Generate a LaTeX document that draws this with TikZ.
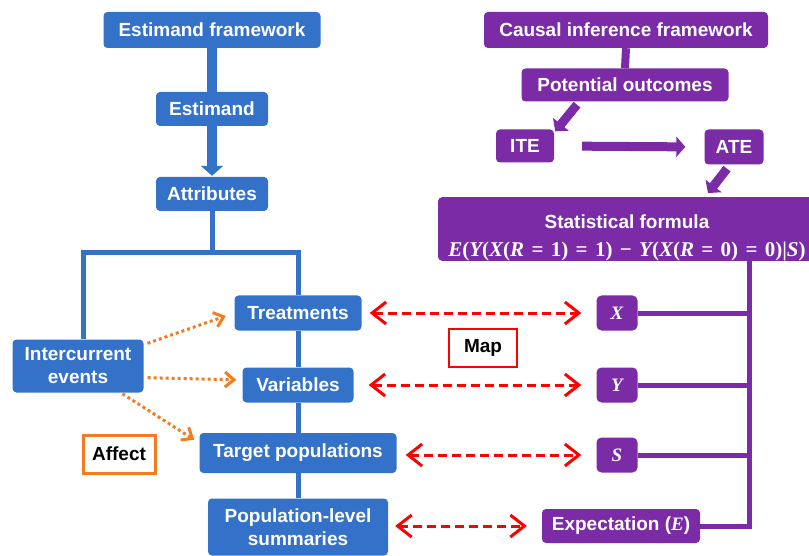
\documentclass[tikz,border=0pt]{standalone}
\usepackage{fontspec}
\setmainfont{Liberation Sans}
\newfontfamily\fserif{Liberation Serif}
\newcommand\mvar[1]{{\fserif\bfseries\itshape #1}}
\newcommand\mup[1]{{\fserif\bfseries #1}}
\newcommand\mrel[1]{\hspace{0.35em}\mup{#1}\hspace{0.35em}}
\usetikzlibrary{arrows.meta,calc}
\definecolor{eblue}{HTML}{3471C9}
\definecolor{cpurple}{HTML}{7A2BA5}
\definecolor{aorange}{HTML}{F57A20}
\definecolor{mred}{HTML}{FF0000}
\tikzset{
  box/.style={rounded corners=4pt, text=white, font=\bfseries\fontsize{19}{23}\selectfont, inner sep=0pt, align=center},
  bbox/.style={box, fill=eblue},
  pbox/.style={box, fill=cpurple},
  lbox/.style={draw, line width=3pt, fill=white, text=black, font=\bfseries\fontsize{19}{23}\selectfont, inner sep=0pt},
  btree/.style={draw=eblue, line width=5pt},
  ptree/.style={draw=cpurple, line width=5pt},
  rarrow/.style={draw=mred, line width=3pt, dash pattern=on 9pt off 5pt,
     {Straight Barb[length=14pt,width=22pt]}-{Straight Barb[length=14pt,width=22pt]}},
  oarrow/.style={draw=aorange, line width=3pt, dash pattern=on 3pt off 3pt,
     -{Straight Barb[length=9pt,width=15pt]}},
  parrow/.style={draw=cpurple, line width=9pt, -{Triangle[length=9pt,width=20pt]}},
}
\begin{document}
\begin{tikzpicture}[x=1pt,y=-1pt]
\useasboundingbox (0,0) rectangle (809,556);
% left column
\node[bbox, minimum width=217pt, minimum height=36pt] (ef) at (212,30) {Estimand framework};
\node[bbox, minimum width=112pt, minimum height=34pt] (est) at (212,109) {Estimand};
\node[bbox, minimum width=112pt, minimum height=34pt] (att) at (212,194) {Attributes};
\node[bbox, minimum width=127pt, minimum height=35pt] (trt) at (298,313) {Treatments};
\node[bbox, minimum width=131pt, minimum height=53pt] (ice) at (78,366) {Intercurrent\\events};
\node[bbox, minimum width=111pt, minimum height=35pt] (var) at (298,385) {Variables};
\node[bbox, minimum width=197pt, minimum height=40pt] (tp) at (298,453) {Target populations};
\node[bbox, minimum width=180pt, minimum height=57pt] (pls) at (298,527) {Population-level\\summaries};
\node[lbox, draw=aorange, minimum width=72pt, minimum height=38pt] (aff) at (119,454) {Affect};
% right column
\node[pbox, minimum width=284pt, minimum height=36pt] (cif) at (626,30) {Causal inference framework};
\node[pbox, minimum width=207pt, minimum height=33pt] (po) at (625,85) {Potential outcomes};
\node[pbox, minimum width=58pt, minimum height=33pt] (ite) at (525,146) {ITE};
\node[pbox, minimum width=59pt, minimum height=35pt] (ate) at (734,147) {ATE};
\node[pbox, minimum width=378pt, minimum height=62pt] (sf) at (627,229)
  {\rule{0pt}{31pt}Statistical formula\\[5pt]{\fontsize{21}{23}\selectfont\mvar{E}\mup{(}\mvar{Y}\mup{(}\mvar{X}\mup{(}\mvar{R}\mrel{=}\mup{1)}\mrel{=}\mup{1)}\mrel{−}\mvar{Y}\mup{(}\mvar{X}\mup{(}\mvar{R}\mrel{=}\mup{0)}\mrel{=}\mup{0)|}\mvar{S}\mup{)}}};
\node[pbox, rounded corners=5pt, minimum width=41pt, minimum height=35pt] (xn) at (617,313) {\mvar{X}};
\node[pbox, rounded corners=5pt, minimum width=41pt, minimum height=35pt] (yn) at (617,385) {\mvar{Y}};
\node[pbox, rounded corners=5pt, minimum width=41pt, minimum height=35pt] (sn) at (617,455) {\mvar{S}};
\node[pbox, minimum width=158pt, minimum height=34pt] (exp) at (621,526) {Expectation (\mvar{E})};
\node[lbox, draw=mred, line width=2.5pt, minimum width=68pt, minimum height=38pt] (map) at (483,348) {Map};
% blue connectors
\draw[draw=eblue, line width=10pt] (ef.south) -- (est.north);
\draw[draw=eblue, line width=10pt, -{Triangle[length=10pt,width=22pt]}, shorten >=1pt] (est.south) -- (att.north);
\coordinate (jl) at (83,253);
\coordinate (jr) at (298,253);
\draw[btree] (att.south) -- (att.south |- jl);
\draw[btree] (jl |- ice.north) -- (jl) -- (jr) -- (trt.north);
\draw[btree] (trt.south) -- (var.north);
\draw[btree] (var.south) -- (tp.north);
\draw[btree] (tp.south) -- (pls.north);
% orange arrows
\draw[oarrow, shorten <=4pt, shorten >=9pt] (ice.18) -- (trt.west);
\draw[oarrow, shorten <=4pt, shorten >=6pt] (ice.-10) -- ([yshift=5pt]var.west);
\draw[oarrow, shorten <=2pt, shorten >=6pt] (ice.-32) -- ([yshift=10pt]tp.west);
% purple connectors
\draw[draw=cpurple, line width=8pt] (cif.south) -- (po.north);
\draw[parrow] ($(po.south)+(-48,3)$) -- ($(ite.north east)+(1,2)$);
\draw[parrow, shorten <=28pt, shorten >=19pt] (ite.east) -- (ate.west);
\draw[parrow] ($(ate.south)+(-7,4)$) -- ($(sf.north)+(81,-4)$);
\coordinate (pv) at (749,260);
\draw[ptree] (pv) -- (pv |- exp) -- (exp.east);
\draw[ptree] (xn.east) -- (xn -| pv);
\draw[ptree] (yn.east) -- (yn -| pv);
\draw[ptree] (sn.east) -- (sn -| pv);
% red map arrows
\draw[rarrow, shorten <=8pt, shorten >=15pt] (trt.east) -- (xn.west);
\draw[rarrow, shorten <=15pt, shorten >=15pt] (var.east) -- (yn.west);
\draw[rarrow, shorten <=9pt, shorten >=15pt] (tp.east |- sn) -- (sn.west);
\draw[rarrow, shorten <=7pt, shorten >=15pt] (pls.east |- exp) -- (exp.west);
\end{tikzpicture}
\end{document}
